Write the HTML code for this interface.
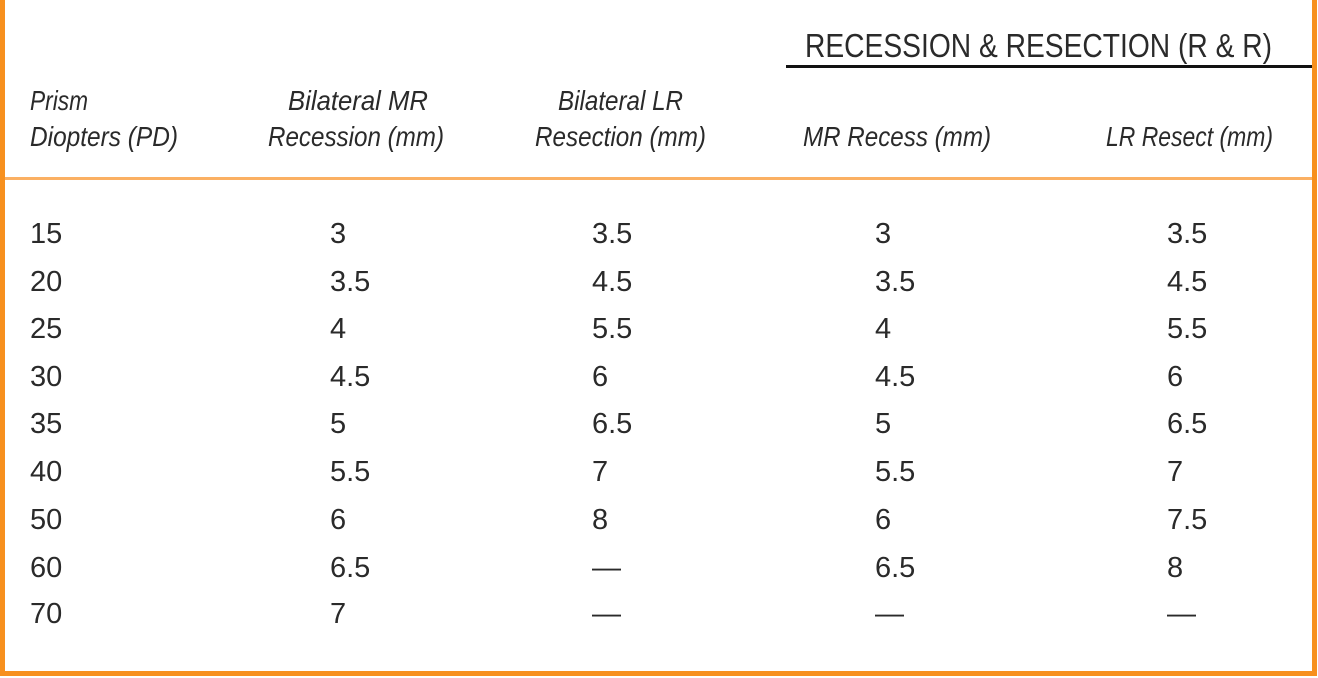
<!DOCTYPE html>
<html><head><meta charset="utf-8"><style>
html,body{margin:0;padding:0;background:#fff;}
svg{display:block;}
text{font-family:"Liberation Sans",sans-serif;fill:#2a2a2a;}
.h{font-style:italic;font-size:28px;}
.n{font-size:29px;}
</style></head><body>
<svg width="1318" height="678" viewBox="0 0 1318 678">
<rect x="0" y="0" width="1318" height="678" fill="#fff"/>
<rect x="0" y="0" width="5" height="676" fill="#f7901e"/>
<rect x="1312" y="0" width="5" height="676" fill="#f7901e"/>
<rect x="0" y="671" width="1317" height="5" fill="#f7901e"/>
<rect x="5" y="177" width="1307" height="3" fill="#fbb063"/>
<rect x="786" y="65" width="526" height="3" fill="#111"/>
<text x="805" y="57" font-size="33" textLength="467" lengthAdjust="spacingAndGlyphs">RECESSION &amp; RESECTION (R &amp; R)</text>
<text class="h" x="30" y="110" textLength="58" lengthAdjust="spacingAndGlyphs">Prism</text>
<text class="h" x="30" y="146" textLength="148" lengthAdjust="spacingAndGlyphs">Diopters (PD)</text>
<text class="h" x="288" y="110" textLength="140" lengthAdjust="spacingAndGlyphs">Bilateral MR</text>
<text class="h" x="268" y="146" textLength="176" lengthAdjust="spacingAndGlyphs">Recession (mm)</text>
<text class="h" x="558" y="110" textLength="125" lengthAdjust="spacingAndGlyphs">Bilateral LR</text>
<text class="h" x="535" y="146" textLength="171" lengthAdjust="spacingAndGlyphs">Resection (mm)</text>
<text class="h" x="803" y="146" textLength="188" lengthAdjust="spacingAndGlyphs">MR Recess (mm)</text>
<text class="h" x="1106" y="146" textLength="167" lengthAdjust="spacingAndGlyphs">LR Resect (mm)</text>
<g class="n">
<text x="30" y="243">15</text><text x="330" y="243">3</text><text x="592" y="243">3.5</text><text x="875" y="243">3</text><text x="1167" y="243">3.5</text>
<text x="30" y="291">20</text><text x="330" y="291">3.5</text><text x="592" y="291">4.5</text><text x="875" y="291">3.5</text><text x="1167" y="291">4.5</text>
<text x="30" y="338">25</text><text x="330" y="338">4</text><text x="592" y="338">5.5</text><text x="875" y="338">4</text><text x="1167" y="338">5.5</text>
<text x="30" y="386">30</text><text x="330" y="386">4.5</text><text x="592" y="386">6</text><text x="875" y="386">4.5</text><text x="1167" y="386">6</text>
<text x="30" y="433">35</text><text x="330" y="433">5</text><text x="592" y="433">6.5</text><text x="875" y="433">5</text><text x="1167" y="433">6.5</text>
<text x="30" y="481">40</text><text x="330" y="481">5.5</text><text x="592" y="481">7</text><text x="875" y="481">5.5</text><text x="1167" y="481">7</text>
<text x="30" y="529">50</text><text x="330" y="529">6</text><text x="592" y="529">8</text><text x="875" y="529">6</text><text x="1167" y="529">7.5</text>
<text x="30" y="577">60</text><text x="330" y="577">6.5</text><text x="592" y="577">—</text><text x="875" y="577">6.5</text><text x="1167" y="577">8</text>
<text x="30" y="623">70</text><text x="330" y="623">7</text><text x="592" y="623">—</text><text x="875" y="623">—</text><text x="1167" y="623">—</text>
</g>
</svg>
</body></html>
